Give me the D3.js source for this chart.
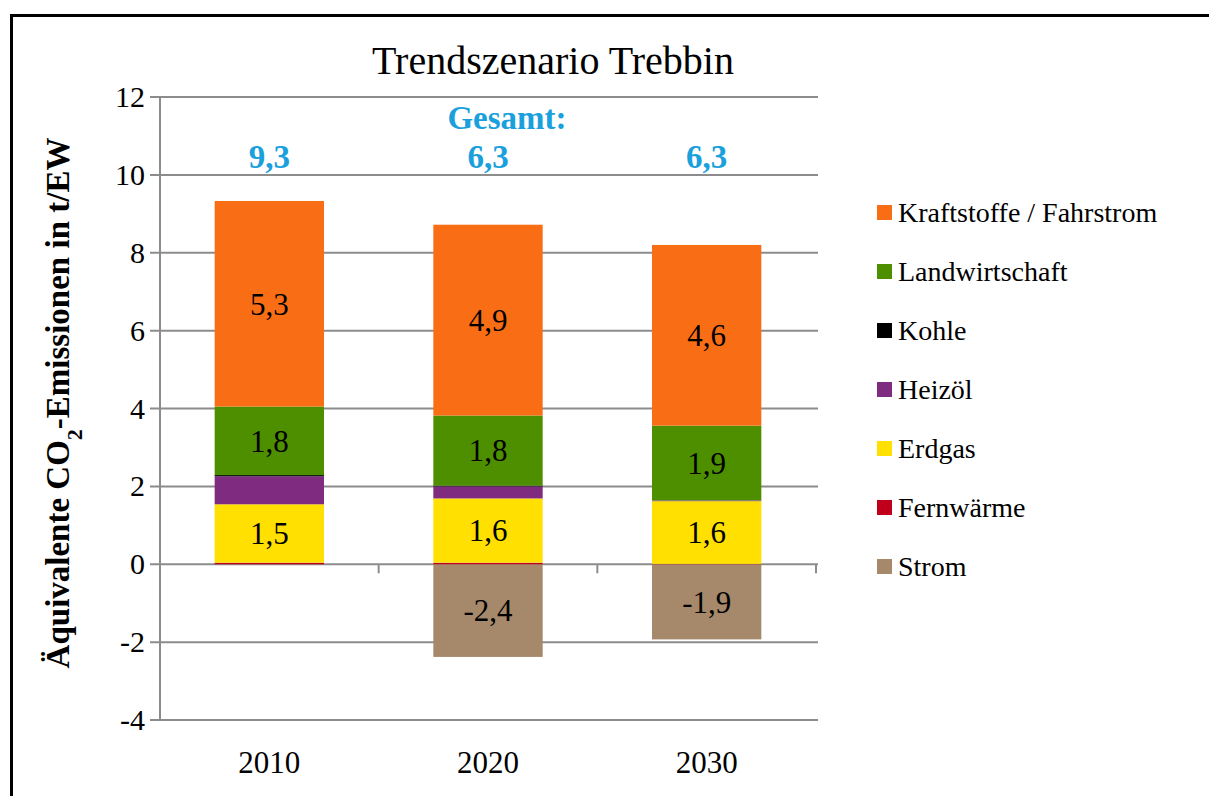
<!DOCTYPE html>
<html>
<head>
<meta charset="utf-8">
<script src="https://cdn.jsdelivr.net/npm/d3@7"></script>
<style>
  body { margin: 0; background: #fff; }
</style>
</head>
<body>
<div id="chart"></div>
<script>
// data
let years = ["2010", "2020", "2030"];
let seriesNames = ["Strom", "Fernwärme", "Erdgas", "Heizöl", "Kohle", "Landwirtschaft", "Kraftstoffe / Fahrstrom"];
let seriesColors = ["#a6896a", "#c0001a", "#ffe000", "#7e2b80", "#000000", "#4e8f00", "#f96e14"];
let strom = [0, -2.38, -1.93];
let fernwaerme = [0.04, 0.04, 0.01];
let erdgas = [1.5, 1.65, 1.61];
let heizoel = [0.72, 0.31, 0.02];
let kohle = [0.03, 0.02, 0];
let landwirtschaft = [1.76, 1.8, 1.92];
let kraftstoffe = [5.28, 4.9, 4.64];
let totals = [9.3, 6.3, 6.3];
let yTicks = [-4, -2, 0, 2, 4, 6, 8, 10, 12];

let svgWidth = 1209;
let svgHeight = 796;
let serif = "Liberation Serif";

let margin = { top: 97, left: 160 };
let width = 656;
let height = 623;

let svg = d3.select("#chart")
    .append("svg")
    .attr("width", svgWidth)
    .attr("height", svgHeight)
    .attr("font-family", serif)
    .style("display", "block");

// outer frame (cut off at right and bottom like the picture)
svg.append("rect")
    .attr("x", 11.5)
    .attr("y", 15.5)
    .attr("width", 1300)
    .attr("height", 900)
    .attr("fill", "none")
    .attr("stroke", "#000")
    .attr("stroke-width", 3);

let chartGroup = svg.append("g")
    .attr("transform", `translate(${margin.left}, ${margin.top})`);

// build table
let allSeries = [strom, fernwaerme, erdgas, heizoel, kohle, landwirtschaft, kraftstoffe];
let table = years.map((y, i) => {
    let row = { year: y };
    seriesNames.forEach((n, j) => row[n] = allSeries[j][i]);
    return row;
});

let stacked = d3.stack()
    .keys(seriesNames)
    .offset(d3.stackOffsetDiverging)(table);

let xScale = d3.scaleBand()
    .domain(years)
    .range([0, width])
    .paddingInner(0.5)
    .paddingOuter(0.25);

let xOuter = d3.scaleBand().domain(years).range([0, width]);

let yScale = d3.scaleLinear()
    .domain([-4, 12])
    .range([height, 0]);

// german decimal comma, plain hyphen minus
let fmt = v => v.toFixed(1).replace(".", ",");

// gridlines
chartGroup.append("g")
    .selectAll("line")
    .data(yTicks)
    .enter()
    .append("line")
    .attr("x1", -10)
    .attr("x2", width + 2)
    .attr("y1", d => yScale(d))
    .attr("y2", d => yScale(d))
    .attr("stroke", "#8c8c8c")
    .attr("stroke-width", 2);

// y axis
let leftAxis = d3.axisLeft(yScale)
    .tickValues(yTicks)
    .tickFormat(d => String(d))
    .tickSize(0)
    .tickPadding(15);
let yAxisG = chartGroup.append("g").call(leftAxis)
    .attr("font-family", serif)
    .attr("font-size", 30);
yAxisG.select(".domain").remove();
yAxisG.selectAll("text")
    .attr("font-family", serif)
    .attr("fill", "#000");

chartGroup.append("line")
    .attr("x1", 0).attr("x2", 0)
    .attr("y1", 0).attr("y2", height)
    .attr("stroke", "#8c8c8c")
    .attr("stroke-width", 2);

// x axis on zero line with category separators
let zeroY = yScale(0);
chartGroup.append("g")
    .selectAll("line")
    .data(years)
    .enter()
    .append("line")
    .attr("x1", d => xOuter(d) + xOuter.step())
    .attr("x2", d => xOuter(d) + xOuter.step())
    .attr("y1", zeroY)
    .attr("y2", zeroY + 9)
    .attr("stroke", "#8c8c8c")
    .attr("stroke-width", 2);

// bars
let layers = chartGroup.selectAll(".layer")
    .data(stacked)
    .enter()
    .append("g")
    .attr("class", "layer")
    .attr("fill", (d, i) => seriesColors[i]);

layers.selectAll("rect")
    .data(d => d)
    .enter()
    .append("rect")
    .attr("x", d => xScale(d.data.year))
    .attr("width", xScale.bandwidth())
    .attr("y", d => yScale(Math.max(d[0], d[1])))
    .attr("height", d => Math.abs(yScale(d[0]) - yScale(d[1])));

// segment labels
stacked.forEach(layer => {
    layer.forEach(d => {
        let v = d[1] - d[0];
        if (Math.abs(v) < 1) return;
        let val = d.data[layer.key];
        chartGroup.append("text")
            .attr("x", xScale(d.data.year) + xScale.bandwidth() / 2)
            .attr("y", yScale((d[0] + d[1]) / 2))
            .attr("dy", "0.35em")
            .attr("text-anchor", "middle")
            .attr("font-family", serif)
            .attr("font-size", 31)
            .text(fmt(val));
    });
});

// x labels
chartGroup.selectAll(".xlab")
    .data(years)
    .enter()
    .append("text")
    .attr("class", "xlab")
    .attr("x", d => xScale(d) + xScale.bandwidth() / 2)
    .attr("y", height + 53)
    .attr("text-anchor", "middle")
    .attr("font-family", serif)
    .attr("font-size", 31)
    .text(d => d);

// totals
chartGroup.append("text")
    .attr("x", xScale("2020") + xScale.bandwidth() / 2 + 19)
    .attr("y", 32)
    .attr("text-anchor", "middle")
    .attr("font-family", serif)
    .attr("font-size", 33)
    .attr("font-weight", "bold")
    .attr("fill", "#1aa0dc")
    .text("Gesamt:");

chartGroup.selectAll(".total")
    .data(totals)
    .enter()
    .append("text")
    .attr("class", "total")
    .attr("x", (d, i) => xScale(years[i]) + xScale.bandwidth() / 2)
    .attr("y", 71)
    .attr("text-anchor", "middle")
    .attr("font-family", serif)
    .attr("font-size", 33)
    .attr("font-weight", "bold")
    .attr("fill", "#1aa0dc")
    .text(d => fmt(d));

// title
svg.append("text")
    .attr("x", 553)
    .attr("y", 74)
    .attr("text-anchor", "middle")
    .attr("font-family", serif)
    .attr("font-size", 40)
    .text("Trendszenario Trebbin");

// y axis title
let yTitle = svg.append("text")
    .attr("transform", "translate(69, 403) rotate(-90)")
    .attr("text-anchor", "middle")
    .attr("font-family", serif)
    .attr("font-size", 33)
    .attr("font-weight", "bold");
yTitle.append("tspan").text("Äquivalente CO");
yTitle.append("tspan").attr("baseline-shift", "sub").attr("font-size", 22).text("2");
yTitle.append("tspan").text("-Emissionen in t/EW");

// legend (top entry first)
let legendNames = seriesNames.slice().reverse();
let legendColors = seriesColors.slice().reverse();
let legend = svg.append("g").attr("transform", "translate(877, 212)");
legendNames.forEach((n, i) => {
    let g = legend.append("g").attr("transform", `translate(0, ${i * 59})`);
    g.append("rect")
        .attr("x", 0).attr("y", -7)
        .attr("width", 15).attr("height", 15)
        .attr("fill", legendColors[i]);
    g.append("text")
        .attr("x", 21)
        .attr("y", 0)
        .attr("dy", "0.35em")
        .attr("font-family", serif)
        .attr("font-size", 28)
        .text(n);
});
</script>
</body>
</html>
